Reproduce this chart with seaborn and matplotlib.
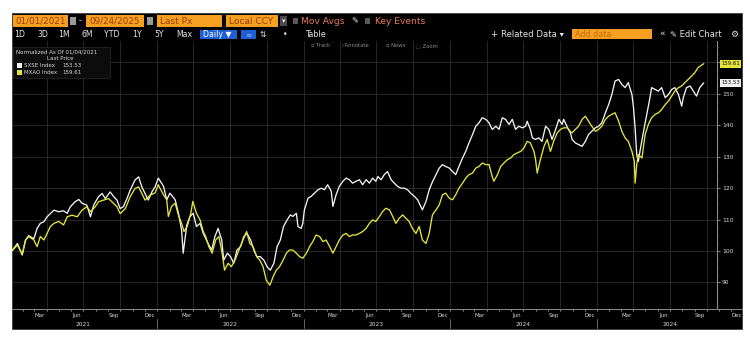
import numpy as np
import pandas as pd
import matplotlib
matplotlib.use("Agg")
import matplotlib.pyplot as plt
import matplotlib.dates as mdates
from matplotlib.patches import Rectangle
from matplotlib.ticker import MultipleLocator
import seaborn as sns

sns.set_style("dark")
plt.rcParams['font.family'] = ['DejaVu Sans']

# ---------------- data (normalized to 100 on 01/04/2021) ----------------
BASE = pd.Timestamp("2021-01-01")

sxse_days = [3, 17, 29, 37, 45, 58, 66, 74, 83, 91,
             99, 108, 120, 132, 141, 149, 161, 170, 178, 190,
             199, 207, 219, 228, 236, 248, 257, 265, 273, 281,
             290, 298, 310, 319, 327, 335, 343, 352, 360, 368,
             381, 389, 397, 410, 418, 426, 430, 439, 447, 455,
             463, 472, 480, 492, 501, 509, 517, 526, 531, 540,
             548, 556, 564, 573, 581, 589, 598, 606, 614, 622,
             631, 639, 647, 656, 664, 672, 680, 689, 697, 703,
             712, 716, 724, 728, 732, 741, 749, 757, 766, 774,
             782, 790, 799, 803, 811, 819, 828, 836, 844, 852,
             861, 869, 877, 886, 894, 902, 910, 915, 923, 931,
             939, 948, 956, 964, 972, 981, 989, 997, 1006, 1014,
             1022, 1026, 1035, 1043, 1051, 1060, 1068, 1076, 1084, 1093,
             1101, 1109, 1117, 1126, 1134, 1142, 1151, 1159, 1167, 1175,
             1184, 1192, 1200, 1209, 1217, 1225, 1233, 1242, 1250, 1258,
             1266, 1275, 1283, 1287, 1295, 1300, 1308, 1316, 1324, 1333,
             1341, 1349, 1358, 1366, 1374, 1378, 1386, 1395, 1399, 1407,
             1415, 1424, 1432, 1440, 1448, 1457, 1465, 1473, 1482, 1490,
             1498, 1506, 1515, 1523, 1531, 1539, 1548, 1552, 1556, 1560,
             1564, 1568, 1577, 1585, 1593, 1597, 1606, 1614, 1622, 1631,
             1639, 1647, 1655, 1664, 1672, 1676, 1684, 1693, 1701, 1709,
             1717, 1727]
sxse_vals = [100.0, 102.4, 98.7, 103.3, 104.9, 103.9, 107.2, 108.8, 109.3, 110.9,
             111.9, 113.0, 112.5, 112.8, 112.0, 114.1, 115.7, 116.4, 115.2, 114.6,
             110.9, 114.6, 117.3, 118.3, 116.7, 118.8, 117.3, 116.2, 113.5, 114.1,
             116.7, 119.4, 122.6, 123.6, 120.4, 118.3, 116.2, 118.8, 120.4, 123.2,
             120.6, 116.3, 118.4, 116.3, 112.1, 106.7, 99.3, 108.3, 111.0, 112.0,
             107.8, 108.8, 105.6, 102.4, 100.3, 104.6, 107.2, 103.5, 97.1, 99.3,
             98.2, 96.1, 100.3, 101.4, 104.6, 105.6, 103.5, 100.3, 98.2, 98.2,
             97.1, 95.0, 93.9, 96.1, 101.4, 103.5, 107.8, 109.9, 111.5, 111.0,
             112.0, 107.8, 107.2, 108.8, 113.1, 116.8, 117.4, 118.4, 119.5, 120.0,
             119.5, 121.1, 119.0, 114.2, 117.9, 120.6, 122.2, 123.2, 122.7, 121.6,
             122.2, 122.7, 121.1, 122.7, 121.6, 123.2, 122.2, 123.7, 122.7, 124.3,
             125.3, 122.7, 121.6, 120.6, 120.0, 120.0, 119.5, 118.4, 117.4, 116.3,
             114.2, 113.1, 115.8, 119.5, 122.0, 124.3, 126.4, 127.5, 126.9, 126.4,
             125.3, 124.3, 126.9, 129.6, 131.7, 134.4, 137.1, 139.7, 140.8, 142.4,
             141.9, 140.8, 138.7, 139.7, 138.7, 142.4, 141.9, 140.3, 141.9, 138.7,
             139.7, 139.2, 139.7, 141.3, 138.7, 136.0, 135.5, 136.0, 134.9, 139.7,
             138.7, 135.5, 138.7, 141.9, 140.3, 141.9, 139.7, 137.5, 135.5, 134.4,
             133.9, 133.3, 134.9, 137.1, 138.1, 139.2, 139.7, 140.8, 144.0, 146.6,
             149.8, 154.1, 154.6, 153.0, 152.0, 153.6, 149.8, 145.6, 139.2, 130.7,
             128.5, 131.7, 138.1, 143.5, 148.8, 152.0, 151.4, 150.9, 152.0, 148.8,
             149.8, 151.4, 152.0, 149.8, 146.1, 148.8, 152.0, 152.5, 150.9, 149.3,
             152.0, 153.53]

mxao_days = [3, 17, 29, 37, 45, 58, 66, 74, 83, 91,
             99, 108, 120, 132, 141, 153, 166, 178, 190, 199,
             211, 219, 232, 244, 257, 265, 273, 286, 298, 310,
             319, 327, 335, 348, 360, 368, 372, 381, 389, 393,
             401, 410, 418, 426, 432, 440, 449, 454, 463, 472,
             480, 486, 494, 502, 511, 519, 527, 533, 542, 550,
             559, 569, 579, 588, 596, 604, 613, 621, 629, 637,
             646, 654, 662, 670, 679, 687, 695, 703, 712, 720,
             728, 737, 745, 753, 761, 770, 778, 786, 795, 803,
             811, 819, 828, 836, 844, 852, 861, 869, 877, 886,
             894, 902, 910, 919, 927, 935, 944, 952, 960, 968,
             977, 985, 993, 1001, 1010, 1018, 1026, 1035, 1043, 1051,
             1060, 1068, 1076, 1084, 1093, 1101, 1109, 1117, 1126, 1134,
             1142, 1151, 1159, 1167, 1175, 1184, 1192, 1200, 1204, 1213,
             1221, 1229, 1238, 1246, 1254, 1262, 1271, 1279, 1287, 1295,
             1304, 1308, 1312, 1320, 1329, 1337, 1345, 1353, 1362, 1370,
             1378, 1387, 1395, 1399, 1407, 1415, 1424, 1432, 1440, 1448,
             1457, 1465, 1473, 1482, 1490, 1498, 1506, 1515, 1523, 1531,
             1539, 1548, 1554, 1556, 1560, 1564, 1573, 1581, 1589, 1597,
             1606, 1614, 1622, 1631, 1639, 1647, 1655, 1664, 1672, 1680,
             1688, 1697, 1705, 1713, 1727]
mxao_vals = [100.0, 101.9, 99.0, 103.5, 104.6, 103.5, 101.4, 104.6, 103.5, 105.6,
             107.8, 108.8, 109.4, 108.3, 110.9, 111.4, 110.9, 113.0, 114.1, 112.5,
             114.1, 115.7, 116.2, 116.7, 115.1, 114.1, 111.9, 113.5, 117.3, 119.9,
             120.4, 118.3, 116.2, 117.8, 118.5, 121.1, 120.0, 117.9, 116.3, 111.0,
             114.2, 115.2, 111.5, 108.8, 106.2, 107.8, 112.0, 115.8, 112.0, 109.9,
             106.2, 104.6, 101.4, 99.3, 103.5, 104.6, 99.3, 93.9, 96.1, 95.0,
             97.1, 100.3, 103.5, 106.2, 102.4, 101.4, 98.2, 97.1, 95.0, 90.7,
             89.1, 91.8, 93.9, 95.0, 97.1, 99.3, 100.3, 100.3, 99.3, 98.2,
             97.7, 99.3, 101.4, 103.0, 105.1, 104.6, 103.0, 103.5, 101.4, 99.3,
             101.4, 103.5, 105.1, 105.6, 104.6, 105.1, 105.1, 105.6, 106.2, 107.2,
             108.8, 109.9, 109.4, 111.0, 112.6, 113.6, 113.1, 111.0, 108.8, 110.4,
             111.5, 110.4, 109.4, 107.2, 105.6, 107.8, 103.5, 102.4, 105.6, 111.5,
             113.1, 114.7, 117.9, 118.4, 116.8, 116.3, 117.9, 120.0, 121.6, 123.2,
             124.3, 124.8, 126.4, 126.9, 128.0, 127.5, 127.5, 123.7, 122.2, 124.3,
             126.9, 128.0, 129.1, 129.6, 130.7, 131.2, 131.7, 132.8, 134.9, 134.4,
             131.7, 129.1, 124.8, 129.1, 133.3, 135.5, 131.7, 134.9, 137.6, 138.7,
             139.2, 139.2, 138.0, 137.6, 138.7, 139.7, 141.9, 142.9, 141.3, 139.7,
             138.1, 138.7, 139.7, 141.9, 142.9, 143.5, 144.0, 141.3, 138.1, 136.0,
             134.9, 131.7, 128.5, 121.6, 127.5, 130.7, 129.6, 137.1, 140.3, 142.4,
             143.5, 144.0, 145.0, 146.6, 147.7, 149.3, 150.9, 152.0, 152.5, 153.6,
             154.6, 155.7, 156.8, 158.4, 159.61]

series_names = ["SXSE Index", "MXAO Index"]
last_values = [153.53, 159.61]
y_ticks = [90, 100, 110, 120, 130, 140, 150, 160]
y_tick_labels = ["90", "100", "110", "120", "130", "140", "150", ""]
month_labels = ["Mar", "Jun", "Sep", "Dec"]
year_labels = ["2021", "2022", "2023", "2024", "2024"]

# ---------------- styling ----------------
W, H = 750, 340
WHITE_LINE = "#f2f2f2"
YELLOW_LINE = "#e4e43a"
ORANGE = "#f5a020"
ORANGE_TXT = "#9a3d00"
SALMON = "#e8795a"
GRID = "#2e2e2e"
TXT = "#d8d8d8"

df = pd.concat([
    pd.DataFrame({"date": BASE + pd.to_timedelta(sxse_days, unit="D"),
                  "value": sxse_vals, "series": series_names[0]}),
    pd.DataFrame({"date": BASE + pd.to_timedelta(mxao_days, unit="D"),
                  "value": mxao_vals, "series": series_names[1]}),
], ignore_index=True)

fig = plt.figure(figsize=(W / 100, H / 100), dpi=100, facecolor="white")

# background / toolbar layer in pixel coordinates
bg = fig.add_axes([0, 0, 1, 1], zorder=0)
bg.set_xlim(0, W); bg.set_ylim(H, 0); bg.axis("off")
bg.add_patch(Rectangle((12, 13), 730, 316, facecolor="black", edgecolor="#3c3c3c", lw=0.6))

def box(ax, x0, y0, x1, y1, fc, ec="none"):
    ax.add_patch(Rectangle((x0, y0), x1 - x0, y1 - y0, facecolor=fc, edgecolor=ec, lw=0.5))

# Row 1
box(bg, 13, 15, 68, 27, ORANGE)
bg.text(40.5, 21.3, "01/01/2021", color=ORANGE_TXT, fontsize=6.3, ha="center", va="center")
box(bg, 70, 17, 76, 25, "#9a9a9a")
bg.text(80.5, 21, "-", color="#dddddd", fontsize=6, ha="center", va="center")
box(bg, 86, 15, 144, 27, ORANGE)
bg.text(115, 21.3, "09/24/2025", color=ORANGE_TXT, fontsize=6.3, ha="center", va="center")
box(bg, 147, 17, 153, 25, "#9a9a9a")
box(bg, 157, 15, 222, 27, ORANGE)
bg.text(160, 21.3, "Last Px", color=ORANGE_TXT, fontsize=6.5, ha="left", va="center")
box(bg, 226, 15, 278, 27, ORANGE)
bg.text(229, 21.3, "Local CCY", color=ORANGE_TXT, fontsize=6.5, ha="left", va="center")
box(bg, 280, 16, 287, 26, "#4a4a4a")
bg.text(283.5, 21, "▾", color="#eeeeee", fontsize=5, ha="center", va="center")
box(bg, 293, 18, 298, 24, "#5a5a5a")
bg.text(301, 21.3, "Mov Avgs", color=SALMON, fontsize=6.6, ha="left", va="center")
bg.text(351, 21, "✎", color="#eeeeee", fontsize=6, ha="left", va="center")
box(bg, 365, 18, 370, 24, "#5a5a5a")
bg.text(375, 21.3, "Key Events", color=SALMON, fontsize=6.6, ha="left", va="center")

# Row 2
for lab, xc in zip(["1D", "3D", "1M", "6M", "YTD", "1Y", "5Y", "Max"],
                   [20, 43, 64, 87, 112, 137, 159, 184]):
    bg.text(xc, 34.5, lab, color="#e6e6e6", fontsize=5.6, ha="center", va="center")
box(bg, 200, 30, 237, 39, "#1f5fd6")
bg.text(203, 34.5, "Daily ▼", color="white", fontsize=5.6, ha="left", va="center")
box(bg, 241, 30, 256, 39, "#1f5fd6")
bg.text(248.5, 34.5, "≈", color="#9cc4ff", fontsize=5.6, ha="center", va="center")
bg.text(263, 34.5, "⇅", color="#e6e6e6", fontsize=5.6, ha="center", va="center")
bg.text(285, 34.5, "•", color="#e6e6e6", fontsize=5.6, ha="center", va="center")
bg.text(305, 34.5, "Table", color="#e6e6e6", fontsize=5.8, ha="left", va="center")
bg.text(491, 34.5, "+ Related Data ▾", color="#e6e6e6", fontsize=6.1, ha="left", va="center")
box(bg, 572, 29, 652, 39, ORANGE)
bg.text(575, 34.3, "Add data", color="#c46a10", fontsize=5.8, ha="left", va="center")
bg.text(662, 34.5, "«", color="#e6e6e6", fontsize=6.5, ha="center", va="center")
bg.text(670, 34.5, "✎ Edit Chart", color="#e6e6e6", fontsize=6.0, ha="left", va="center")
bg.text(734, 34.5, "⚙", color="#e6e6e6", fontsize=6.5, ha="center", va="center")

# ---------------- main plot ----------------
PX_PER_DAY = 705 / (1760 - 3.5)
x0 = BASE + pd.Timedelta(days=3.5)
x1 = BASE + pd.Timedelta(days=1760)
ax = fig.add_axes([12 / W, 1 - 308 / H, 705 / W, 267 / H], zorder=1)
ax.set_facecolor("none")
sns.lineplot(data=df, x="date", y="value", hue="series",
             palette={series_names[0]: WHITE_LINE, series_names[1]: YELLOW_LINE},
             hue_order=series_names, lw=0.95, legend=False, ax=ax,
             estimator=None, sort=False)
ax.set_xlim(x0, x1)
ax.set_ylim(81.86, 166.84)
quarters = pd.date_range("2021-04-01", "2025-10-01", freq="QS")
ax.set_xticks(quarters)
ax.tick_params(axis="x", length=0, labelbottom=False)
ax.yaxis.tick_right()
ax.set_yticks(y_ticks)
ax.set_yticklabels(y_tick_labels)
ax.yaxis.set_minor_locator(MultipleLocator(2.5))
ax.tick_params(axis="y", which="major", length=2, width=0.6, color="#9a9a9a",
               labelsize=4.3, labelcolor=TXT, pad=1.5)
ax.tick_params(axis="y", which="minor", length=1, width=0.5, color="#7a7a7a")
ax.grid(True, which="major", color=GRID, lw=0.6)
ax.set_xlabel(""); ax.set_ylabel("")
for s in ["top", "left", "bottom"]:
    ax.spines[s].set_visible(False)
ax.spines["right"].set_color("#8a8a8a")
ax.spines["right"].set_linewidth(0.8)

# ---------------- bottom date strip ----------------
axb = fig.add_axes([12 / W, 1 - 329 / H, 730 / W, 20 / H], zorder=1)
axb.set_facecolor("none")
axb.set_xlim(x0, x0 + pd.Timedelta(days=730 / PX_PER_DAY))
axb.set_ylim(0, 1)
axb.xaxis.set_ticks_position("top")
axb.set_xticks(pd.date_range("2021-02-01", "2025-12-01", freq="MS"))
axb.tick_params(axis="x", direction="in", length=1.5, width=0.6, color="#aaaaaa",
                labeltop=False, labelbottom=False)
axb.set_yticks([])
for s in ["left", "right", "bottom"]:
    axb.spines[s].set_visible(False)
axb.spines["top"].set_color("#8a8a8a")
axb.spines["top"].set_linewidth(0.7)
years = [2021, 2022, 2023, 2024, 2025]
for yr, ylab in zip(years, year_labels):
    for mi, mlab in zip([3, 6, 9, 12], month_labels):
        axb.text(pd.Timestamp(yr, mi, 15), 0.68, mlab, color=TXT, fontsize=4,
                 ha="center", va="center", clip_on=True)
    axb.text(pd.Timestamp(yr, 7, 1), 0.24, ylab, color=TXT, fontsize=4.2,
             ha="center", va="center")
    if yr > 2021:
        axb.plot([pd.Timestamp(yr, 1, 1)] * 2, [0.05, 0.5], color="#777777", lw=0.6)

# ---------------- foreground: legend, tags, tool row ----------------
fg = fig.add_axes([0, 0, 1, 1], zorder=3)
fg.set_xlim(0, W); fg.set_ylim(H, 0); fg.axis("off"); fg.patch.set_alpha(0)

box(fg, 13, 47, 110, 78, "#0c0c0c", "#2a2a2a")
fg.text(16, 51.5, "Normalized As Of 01/04/2021", color=TXT, fontsize=4, ha="left", va="center")
fg.text(60, 58.5, "Last Price", color=TXT, fontsize=4, ha="center", va="center")
for i, (nm, lv, col) in enumerate(zip(series_names, last_values, [WHITE_LINE, YELLOW_LINE])):
    yy = 65.5 + 7.5 * i
    box(fg, 16.5, yy - 2.7, 21.5, yy + 2.3, col)
    fg.text(23.5, yy, nm, color=TXT, fontsize=4, ha="left", va="center")
    fg.text(62, yy, f"{lv:.2f}", color=TXT, fontsize=4, ha="left", va="center")

for lab, xl in zip(["▫ Track", "⁄ Annotate", "▫ News", "⬚ Zoom"], [311, 343, 386, 416]):
    fg.text(xl, 45.5, lab, color="#8c8c8c", fontsize=3.8, ha="left", va="center")

for lv, fc in zip(last_values, [WHITE_LINE, YELLOW_LINE]):
    ax.annotate(f"{lv:.2f}", xy=(1.0, lv), xycoords=("axes fraction", "data"),
                xytext=(3, 0), textcoords="offset points", fontsize=3.9,
                color="#111111", ha="left", va="center", annotation_clip=False,
                bbox=dict(boxstyle="square,pad=0.25", fc=fc, ec="none"), zorder=5)

fig.savefig("out.png", dpi=100, facecolor="white")
